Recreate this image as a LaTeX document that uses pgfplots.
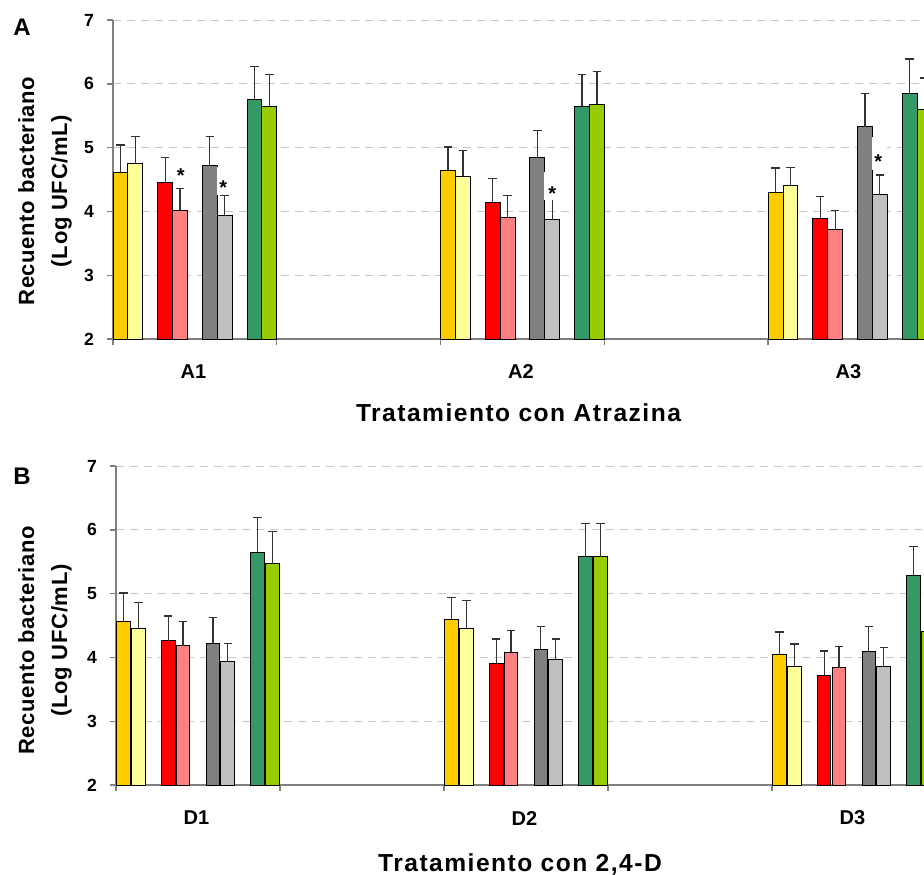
\documentclass[border=0pt]{standalone}
\usepackage{fontspec}
\setmainfont{Liberation Sans}
\usepackage{pgfplots}
\pgfplotsset{compat=1.18}

\definecolor{amar}{HTML}{FFCC00}
\definecolor{amarcl}{HTML}{FFFF99}
\definecolor{rojo}{HTML}{FF0000}
\definecolor{rosa}{HTML}{FF8080}
\definecolor{gris}{HTML}{808080}
\definecolor{griscl}{HTML}{C0C0C0}
\definecolor{verde}{HTML}{339966}
\definecolor{verdecl}{HTML}{99CC00}
\definecolor{ejes}{HTML}{7F7F7F}

\pgfplotsset{
  barra/.style={ybar, bar shift=0pt, draw=black, line width=0.5pt, fill=#1,
    /pgfplots/error bars/y dir=plus, /pgfplots/error bars/y explicit,
    /pgfplots/error bars/error bar style={black!80, line width=0.6pt},
    /pgfplots/error bars/error mark options={rotate=90, black!80, mark size=2.1pt, line width=0.6pt}},
  panel/.style={
    scale only axis, height=159.5pt, anchor=south west,
    xmin=0, ymin=2, ymax=7, clip mode=individual,
    axis lines=left, axis line style={-, ejes, line width=0.7pt},
    xtick={0,11,22,33,44}, xticklabels={},
    ytick={2,3,4,5,6,7},
    tick align=outside, major tick length=3pt,
    tick style={ejes, line width=0.7pt},
    ymajorgrids, major grid style={black!22, dash pattern=on 4pt off 3pt, line width=0.5pt},
    yticklabel style={font=\fontsize{8.8}{10}\selectfont\bfseries, xshift=-3pt},
    /pgf/number format/assume math mode=true,
    xlabel style={font=\fontsize{12.3}{14}\selectfont\bfseries\addfontfeatures{LetterSpace=6},
      at={(axis description cs:0.5,0)}, anchor=center},
  },
}
\tikzset{
  cat/.style={font=\fontsize{10}{12}\selectfont\bfseries, yshift=-16.5pt},
  ast/.style={font=\fontsize{10}{12}\selectfont\bfseries},
}

\begin{document}
\begin{tikzpicture}
\useasboundingbox (0,0) rectangle (462pt,-437pt);

% ---------------- Panel A: Atrazina
\begin{axis}[panel, at={(56.5pt,-169.5pt)}, width=405.5pt, xmax=54.47,
  xlabel={Tratamiento con Atrazina}, xlabel style={yshift=-37pt}]
\addplot[bar width=1, barra=amar] table[x=x, y=y, y error=e] {
x y e
0.5 4.61 0.43
22.5 4.64 0.37
44.5 4.30 0.38
};
\addplot[bar width=1, barra=amarcl] table[x=x, y=y, y error=e] {
x y e
1.5 4.75 0.43
23.5 4.55 0.40
45.5 4.41 0.28
};
\addplot[bar width=1, barra=rojo] table[x=x, y=y, y error=e] {
x y e
3.5 4.46 0.38
25.5 4.14 0.38
47.5 3.89 0.34
};
\addplot[bar width=1, barra=rosa] table[x=x, y=y, y error=e] {
x y e
4.5 4.02 0.34
26.5 3.91 0.34
48.5 3.71 0.31
};
\addplot[bar width=1, barra=gris] table[x=x, y=y, y error=e] {
x y e
6.5 4.72 0.45
28.5 4.84 0.43
50.5 5.33 0.52
};
\addplot[bar width=1, barra=griscl] table[x=x, y=y, y error=e] {
x y e
7.5 3.94 0.31
29.5 3.87 0.43
51.5 4.26 0.31
};
\addplot[bar width=1, barra=verde] table[x=x, y=y, y error=e] {
x y e
9.5 5.75 0.52
31.5 5.65 0.49
53.5 5.85 0.54
};
\addplot[bar width=1, barra=verdecl] table[x=x, y=y, y error=e] {
x y e
10.5 5.64 0.51
32.5 5.68 0.51
54.5 5.60 0.49
};
% fondos blancos de los asteriscos
\fill[white] (axis cs:3.97,4.47) rectangle (axis cs:5.0,4.84);
\fill[white] (axis cs:6.97,4.26) rectangle (axis cs:8.0,4.70);
\fill[white] (axis cs:28.97,4.18) rectangle (axis cs:30.0,4.62);
\fill[white] (axis cs:50.97,4.65) rectangle (axis cs:52.0,5.17);
\node[ast] at (axis cs:4.55,4.56) {*};
\node[ast] at (axis cs:7.4,4.37) {*};
\node[ast] at (axis cs:29.5,4.28) {*};
\node[ast] at (axis cs:51.4,4.78) {*};
\node[cat] at (axis cs:5.4,2) {A1};
\node[cat] at (axis cs:27.4,2) {A2};
\node[cat] at (axis cs:49.4,2) {A3};
\end{axis}

% ---------------- Panel B: 2,4-D
\begin{axis}[panel, at={(58pt,-392.5pt)}, width=404pt, xmax=54.2,
  xlabel={Tratamiento con 2,4-D}, xlabel style={yshift=-39.5pt}]
\addplot[bar width=0.92, barra=amar] table[x=x, y=y, y error=e] {
x y e
0.5 4.57 0.44
22.5 4.59 0.35
44.5 4.05 0.35
};
\addplot[bar width=0.92, barra=amarcl] table[x=x, y=y, y error=e] {
x y e
1.5 4.46 0.40
23.5 4.46 0.43
45.5 3.86 0.35
};
\addplot[bar width=0.92, barra=rojo] table[x=x, y=y, y error=e] {
x y e
3.5 4.26 0.39
25.5 3.90 0.39
47.5 3.72 0.38
};
\addplot[bar width=0.92, barra=rosa] table[x=x, y=y, y error=e] {
x y e
4.5 4.18 0.38
26.5 4.08 0.34
48.5 3.84 0.33
};
\addplot[bar width=0.92, barra=gris] table[x=x, y=y, y error=e] {
x y e
6.5 4.22 0.40
28.5 4.12 0.36
50.5 4.10 0.38
};
\addplot[bar width=0.92, barra=griscl] table[x=x, y=y, y error=e] {
x y e
7.5 3.93 0.29
29.5 3.96 0.33
51.5 3.86 0.29
};
\addplot[bar width=0.92, barra=verde] table[x=x, y=y, y error=e] {
x y e
9.5 5.65 0.54
31.5 5.58 0.52
53.5 5.29 0.45
};
\addplot[bar width=0.92, barra=verdecl] table[x=x, y=y, y error=e] {
x y e
10.5 5.47 0.51
32.5 5.58 0.52
54.5 4.40 0.40
};
\node[cat] at (axis cs:5.4,2) {D1};
\node[cat] at (axis cs:27.4,2) {D2};
\node[cat] at (axis cs:49.4,2) {D3};
\end{axis}

% etiquetas de eje y y de panel
\node[rotate=90, align=center, font=\fontsize{11}{16.5}\selectfont\bfseries\addfontfeatures{LetterSpace=3}]
  at (22.5pt,-95.5pt) {Recuento bacteriano\\(Log UFC/mL)};
\node[rotate=90, align=center, font=\fontsize{11}{16.5}\selectfont\bfseries\addfontfeatures{LetterSpace=3}]
  at (22.5pt,-320.25pt) {Recuento bacteriano\\(Log UFC/mL)};
\node[font=\fontsize{12}{14}\selectfont\bfseries] at (11pt,-13.5pt) {A};
\node[font=\fontsize{12}{14}\selectfont\bfseries] at (11pt,-238pt) {B};
\end{tikzpicture}
\end{document}
